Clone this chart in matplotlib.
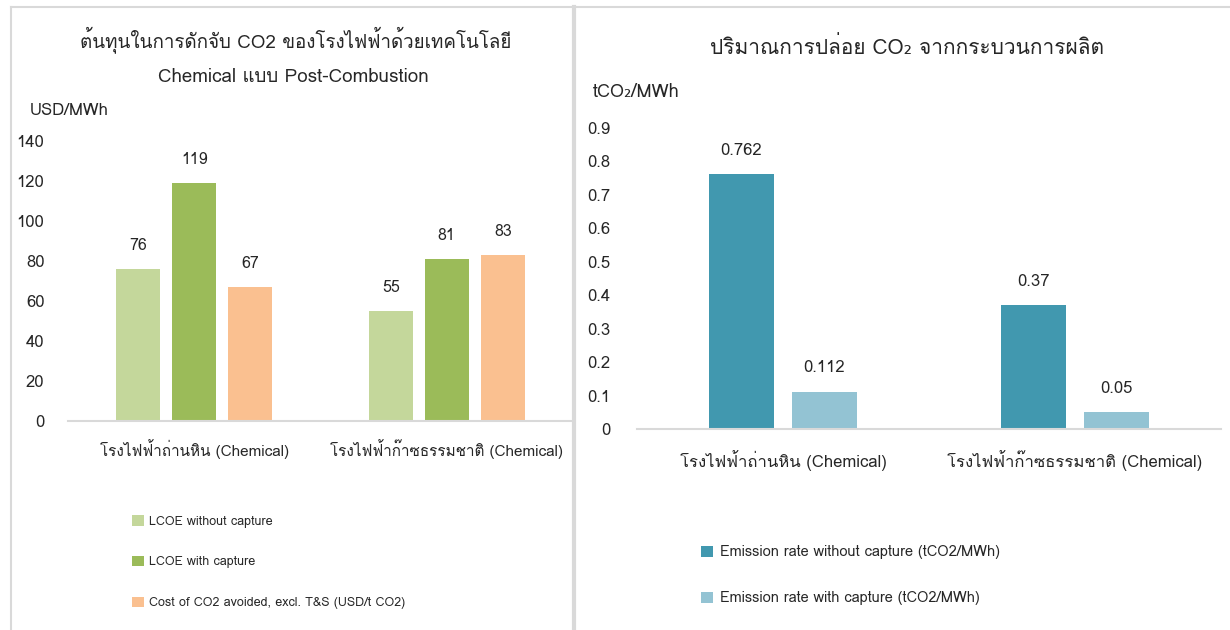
import matplotlib
matplotlib.use("Agg")
import matplotlib.pyplot as plt
from matplotlib import font_manager, ft2font
from matplotlib.lines import Line2D
import numpy as np

# find an installed font that has Thai glyphs
thai_font = None
for f in font_manager.fontManager.ttflist:
    try:
        if 0x0E01 in ft2font.FT2Font(f.fname).get_charmap():
            thai_font = f.name
            break
    except Exception:
        pass
families = [thai_font, "DejaVu Sans"] if thai_font else ["DejaVu Sans"]
plt.rcParams["font.family"] = families

# ---- data ----
plants = ["โรงไฟฟ้าถ่านหิน (Chemical)", "โรงไฟฟ้าก๊าซธรรมชาติ (Chemical)"]

cost_labels = ["LCOE without capture", "LCOE with capture",
               "Cost of CO2 avoided, excl. T&S (USD/t CO2)"]
lcoe_without = [76, 55]
lcoe_with = [119, 81]
cost_avoided = [67, 83]

emis_labels = ["Emission rate without capture (tCO2/MWh)",
               "Emission rate with capture (tCO2/MWh)"]
emis_without = [0.762, 0.37]
emis_with = [0.112, 0.05]

cost_colors = ["#C4D79B", "#9BBB59", "#FAC090"]
emis_colors = ["#4198AF", "#93C3D3"]
grid_gray = "#D9D9D9"
text_col = "#262626"

fig = plt.figure(figsize=(12.3, 6.3), dpi=100)

# panel frames
fig.add_artist(Line2D([11/1230, 11/1230], [0, 623/630], color=grid_gray, lw=1.5))
fig.add_artist(Line2D([11/1230, 1], [623/630, 623/630], color=grid_gray, lw=1.5))
fig.add_artist(Line2D([574/1230, 574/1230], [0, 623/630], color=grid_gray, lw=3))

x = np.arange(len(plants))

# ---- left chart ----
ax1 = fig.add_axes([68/1230, 209/630, 505/1230, 280/630])
w1 = 0.174
off1 = 0.222
series1 = [lcoe_without, lcoe_with, cost_avoided]
for i, (vals, lab, col) in enumerate(zip(series1, cost_labels, cost_colors)):
    bars = ax1.bar(x + (i - 1) * off1, vals, w1, color=col, label=lab)
    ax1.bar_label(bars, labels=[str(v) for v in vals], padding=11,
                  fontsize=11.5, color=text_col)
ax1.set_xlim(-0.5, 1.5)
ax1.set_ylim(0, 140)
ax1.set_yticks(range(0, 141, 20))
ax1.set_xticks(x, plants)
for s in ["top", "right", "left"]:
    ax1.spines[s].set_visible(False)
ax1.spines["bottom"].set_color(grid_gray)
ax1.spines["bottom"].set_linewidth(1.5)
ax1.tick_params(axis="y", length=0, pad=17, labelsize=12, labelcolor=text_col)
ax1.tick_params(axis="x", length=0, pad=13, labelsize=11, labelcolor=text_col)
ax1.legend(loc="upper left", bbox_to_anchor=(126/1230, 1 - 509/630),
           bbox_transform=fig.transFigure, frameon=False, fontsize=9,
           handlelength=0.9, handleheight=0.9, handletextpad=0.45,
           labelspacing=2.25, borderpad=0, labelcolor=text_col)

fig.text(296/1230, 1 - 40/630, "ต้นทุนในการดักจับ CO2 ของโรงไฟฟ้าด้วยเทคโนโลยี",
         ha="center", va="center", fontsize=13.5, color=text_col)
fig.text(293/1230, 1 - 77/630, "Chemical แบบ Post-Combustion",
         ha="center", va="center", fontsize=13.5, color=text_col)
fig.text(30/1230, 1 - 111/630, "USD/MWh", ha="left", va="center",
         fontsize=12, color=text_col)

# ---- right chart ----
ax2 = fig.add_axes([637/1230, 201/630, 584/1230, 301/630])
w2 = 0.223
off2 = 0.142
series2 = [emis_without, emis_with]
for i, (vals, lab, col) in enumerate(zip(series2, emis_labels, emis_colors)):
    bars = ax2.bar(x + (2 * i - 1) * off2, vals, w2, color=col, label=lab)
    ax2.bar_label(bars, labels=[str(v) for v in vals], padding=11,
                  fontsize=12, color=text_col)
ax2.set_xlim(-0.5, 1.5)
ax2.set_ylim(0, 0.9)
ax2.set_yticks(np.arange(0, 0.91, 0.1), ["0"] + [f"{v:.1f}" for v in np.arange(0.1, 0.91, 0.1)])
ax2.set_xticks(x, plants)
for s in ["top", "right", "left"]:
    ax2.spines[s].set_visible(False)
ax2.spines["bottom"].set_color(grid_gray)
ax2.spines["bottom"].set_linewidth(1.5)
ax2.tick_params(axis="y", length=0, pad=19, labelsize=12, labelcolor=text_col)
ax2.tick_params(axis="x", length=0, pad=15, labelsize=12, labelcolor=text_col)
ax2.legend(loc="upper left", bbox_to_anchor=(694/1230, 1 - 538/630),
           bbox_transform=fig.transFigure, frameon=False, fontsize=10.5,
           handlelength=0.8, handleheight=0.8, handletextpad=0.45,
           labelspacing=2.2, borderpad=0, labelcolor=text_col)

fig.text(907/1230, 1 - 47/630, "ปริมาณการปล่อย CO₂ จากกระบวนการผลิต",
         ha="center", va="center", fontsize=15, color=text_col)
fig.text(593/1230, 1 - 92/630, "tCO₂/MWh", ha="left", va="center",
         fontsize=13, color=text_col)

fig.savefig("out.png", dpi=100)
